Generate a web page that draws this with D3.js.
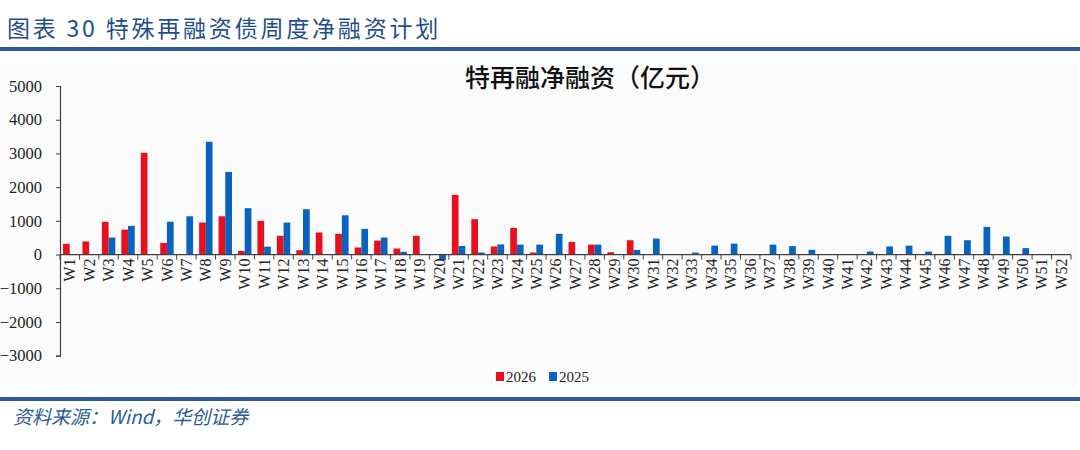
<!DOCTYPE html>
<html>
<head>
<meta charset="utf-8">
<script src="https://cdn.jsdelivr.net/npm/d3@7"></script>
<style>
  body { margin: 0; background: #fff; }
  svg { display: block; }
</style>
</head>
<body>
<div id="chart"></div>
<script>
// weekly net financing of special refinancing bonds (100m yuan)
const weeks = ["W1","W2","W3","W4","W5","W6","W7","W8","W9","W10","W11","W12","W13",
  "W14","W15","W16","W17","W18","W19","W20","W21","W22","W23","W24","W25","W26",
  "W27","W28","W29","W30","W31","W32","W33","W34","W35","W36","W37","W38","W39",
  "W40","W41","W42","W43","W44","W45","W46","W47","W48","W49","W50","W51","W52"];
const seriesNames = ["2026", "2025"];
const values2026 = [320,390,970,740,3020,345,0,950,1135,105,1000,555,130,655,615,210,415,180,555,0,
  1770,1050,240,790,60,0,375,295,70,425,0,0,0,0,0,0,0,0,0,0,0,0,0,0,0,0,0,0,0,0,0,0];
const values2025 = [0,0,505,850,0,975,1135,3345,2450,1375,235,950,1345,0,1165,760,505,80,0,-170,
  255,60,300,295,295,615,0,295,0,140,475,0,60,265,325,0,295,250,140,0,0,90,240,265,90,555,425,820,535,190,0,0];
const yTicks = [5000,4000,3000,2000,1000,0,-1000,-2000,-3000];

const W = 1080, H = 450;
const colors = { "2026": "#e8101f", "2025": "#0763bd" };
const serif = "'Times New Roman', 'Liberation Serif', serif";
const cjk = "'Noto Sans CJK SC', sans-serif";

const svg = d3.select("#chart").append("svg")
  .attr("width", W).attr("height", H);

// header
svg.append("text")
  .attr("x", 7).attr("y", 37)
  .style("font-family", cjk)
  .style("font-size", "23px")
  .style("letter-spacing", "2.8px")
  .style("fill", "#1f4e8c")
  .text("图表 30 特殊再融资债周度净融资计划");
svg.append("rect").attr("x", 0).attr("y", 47).attr("width", W).attr("height", 4).attr("fill", "#2c5b95");

// chart panel
svg.append("rect").attr("x", 0).attr("y", 62).attr("width", 1077).attr("height", 325)
  .attr("fill", "#fbfbfb");

svg.append("text")
  .attr("x", 590).attr("y", 87)
  .attr("text-anchor", "middle")
  .style("font-family", cjk)
  .style("font-size", "25px")
  .style("font-weight", 500)
  .style("fill", "#111")
  .text("特再融净融资（亿元）");

const x0 = d3.scaleBand().domain(weeks).range([60, 1071]).paddingInner(0).paddingOuter(0);
const x1 = d3.scaleBand().domain(seriesNames).range([0, x0.bandwidth()]).paddingOuter(0.45).paddingInner(0);
const y = d3.scaleLinear().domain([-3000, 5000]).range([355.7, 86]);

const rows = weeks.map((w, i) => ({ week: w, "2026": values2026[i], "2025": values2025[i] }));

// bars
const groups = svg.append("g").selectAll("g")
  .data(rows).enter().append("g")
  .attr("transform", d => `translate(${x0(d.week)},0)`);
groups.selectAll("rect")
  .data(d => seriesNames.map(s => ({ s, v: d[s] })).filter(e => e.v !== 0))
  .enter().append("rect")
  .attr("x", e => x1(e.s))
  .attr("width", x1.bandwidth())
  .attr("y", e => y(Math.max(0, e.v)))
  .attr("height", e => Math.abs(y(e.v) - y(0)))
  .attr("fill", e => colors[e.s]);

// y axis
const yAxis = svg.append("g")
  .attr("transform", "translate(60,0)")
  .call(d3.axisLeft(y).tickValues(yTicks).tickSize(4).tickPadding(14).tickFormat(d3.format("d")));
yAxis.select(".domain").attr("stroke", "#404040").attr("stroke-width", 1.2);
yAxis.selectAll(".tick line").attr("stroke", "#404040");
yAxis.selectAll("text")
  .style("font-family", serif).style("font-size", "16.5px").style("fill", "#222");

// x axis with ticks between categories
const xAxis = svg.append("g").attr("transform", `translate(0,${y(0)})`);
xAxis.append("line").attr("x1", 60).attr("x2", 1071).attr("stroke", "#404040").attr("stroke-width", 1.2);
xAxis.selectAll("line.tk")
  .data(weeks.concat(["end"])).enter().append("line")
  .attr("class", "tk")
  .attr("x1", (d, i) => 60 + i * x0.step())
  .attr("x2", (d, i) => 60 + i * x0.step())
  .attr("y1", 0).attr("y2", 5)
  .attr("stroke", "#404040");
xAxis.selectAll("text")
  .data(weeks).enter().append("text")
  .attr("transform", d => `translate(${x0(d) + x0.bandwidth() / 2},4) rotate(-90)`)
  .attr("text-anchor", "end")
  .attr("dy", "0.35em")
  .style("font-family", serif).style("font-size", "16px").style("fill", "#222")
  .text(d => d);

// legend
const legend = svg.append("g").attr("transform", "translate(496,377)");
seriesNames.forEach((s, i) => {
  const g = legend.append("g").attr("transform", `translate(${i * 53},0)`);
  g.append("rect").attr("x", 0).attr("y", -5).attr("width", 8).attr("height", 9).attr("fill", colors[s]);
  g.append("text").attr("x", 10).attr("y", 0).attr("dy", "0.35em")
    .style("font-family", serif).style("font-size", "15px").style("fill", "#222")
    .text(s);
});

// footer
svg.append("rect").attr("x", 0).attr("y", 397).attr("width", W).attr("height", 4).attr("fill", "#2c5b95");
svg.append("text")
  .attr("x", 13).attr("y", 424)
  .style("font-family", cjk)
  .style("font-size", "19px")
  .style("font-style", "italic")
  .style("fill", "#2c5b95")
  .text("资料来源：Wind，华创证券");
</script>
</body>
</html>
